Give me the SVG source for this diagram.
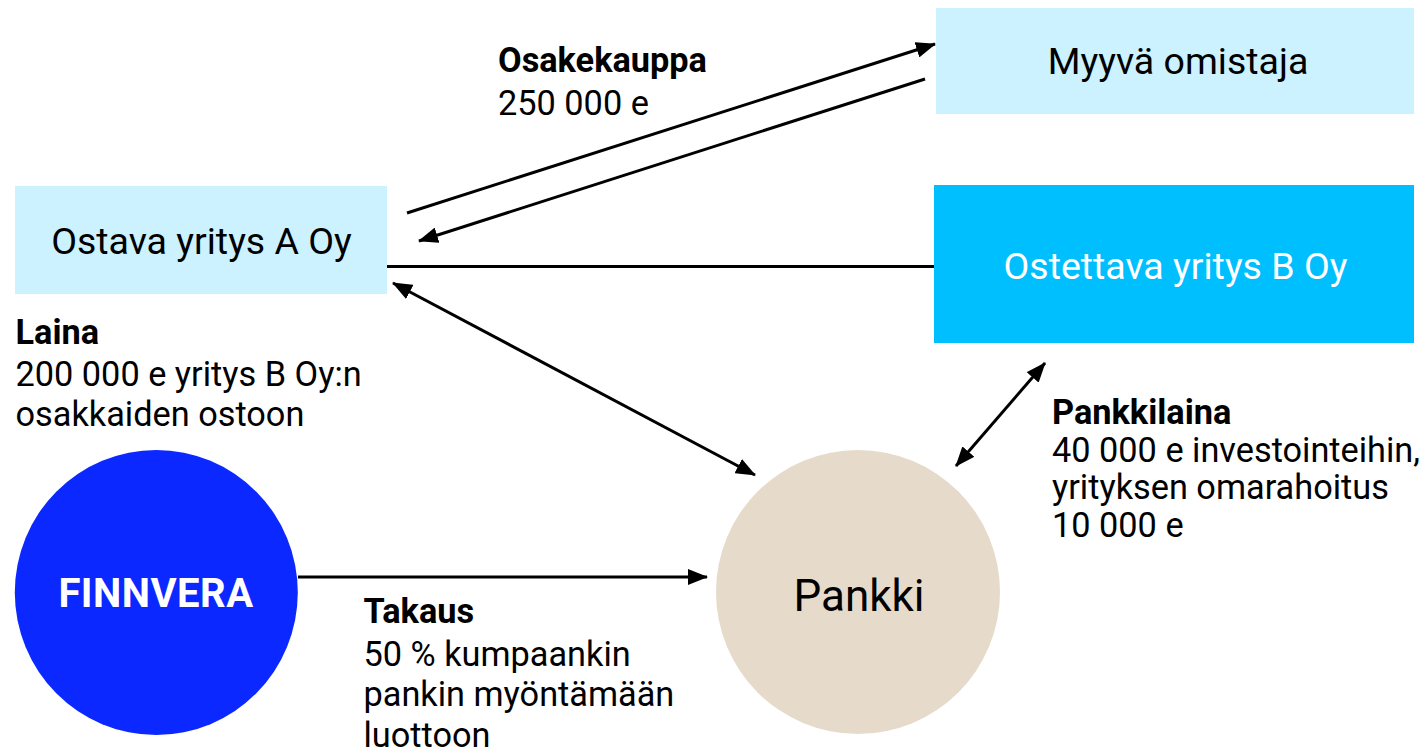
<svg xmlns="http://www.w3.org/2000/svg" width="1423" height="750" viewBox="0 0 1423 750">
<style>
text{font-family:Roboto,"Liberation Sans",sans-serif;font-size:34.3px;fill:#000}
.b{font-weight:700}
.n{font-size:37.500px}
line{stroke:#000;stroke-width:3}
</style>
<defs>
<marker id="e" markerUnits="userSpaceOnUse" markerWidth="20" markerHeight="16" refX="19" refY="8" orient="auto"><path d="M0 0L20 8L0 16Z"/></marker>
<marker id="s" markerUnits="userSpaceOnUse" markerWidth="20" markerHeight="16" refX="1" refY="8" orient="auto"><path d="M20 0L0 8L20 16Z"/></marker>
</defs>
<rect width="1423" height="750" fill="#fff"/>
<g id="connectors">
<line x1="407" y1="213" x2="935" y2="44" marker-end="url(#e)"/>
<line x1="925" y1="79" x2="419" y2="241" marker-end="url(#e)"/>
<line x1="387" y1="266.500" x2="934" y2="266.500"/>
<line x1="393" y1="283" x2="755" y2="475" marker-start="url(#s)" marker-end="url(#e)"/>
<line x1="1045" y1="363" x2="956" y2="466" marker-start="url(#s)" marker-end="url(#e)"/>
<line x1="298" y1="577" x2="707" y2="577" marker-end="url(#e)"/>
</g>
<g id="myyva"><rect x="936" y="8" width="478" height="106" fill="#ccf2ff"/><text x="1178" y="73.500" text-anchor="middle" class="n">Myyvä omistaja</text></g>
<g id="ostava"><rect x="15" y="186" width="372" height="108" fill="#ccf2ff"/><text x="201.500" y="253.500" text-anchor="middle" class="n">Ostava yritys A Oy</text></g>
<g id="ostettava"><rect x="934" y="185" width="480" height="158" fill="#00bfff"/><text x="1175.500" y="278.500" text-anchor="middle" class="n" style="fill:#fff">Ostettava yritys B Oy</text></g>
<g id="finnvera"><ellipse cx="156.300" cy="592.500" rx="141.500" ry="142.500" fill="#0a28ff"/><text x="156" y="606.500" text-anchor="middle" style="font-size:40px;font-weight:700;letter-spacing:.5px;fill:#fff">FINNVERA</text></g>
<g id="pankki"><circle cx="858" cy="592" r="142" fill="#e6dacb"/><text x="859" y="610.500" text-anchor="middle" style="font-size:44px">Pankki</text></g>
<g id="labels">
<text x="498" y="71.500" class="b">Osakekauppa</text><text x="498" y="114.500">250 000 e</text>
<text x="15.500" y="343.500" class="b">Laina</text><text x="15.500" y="386">200 000 e yritys B Oy:n</text><text x="15.500" y="425.500">osakkaiden ostoon</text>
<text x="1052" y="424" class="b">Pankkilaina</text><text x="1052" y="462">40 000 e investointeihin,</text><text x="1052" y="499">yrityksen omarahoitus</text><text x="1052" y="537">10 000 e</text>
<text x="363.500" y="623" class="b">Takaus</text><text x="363.500" y="665.500">50 % kumpaankin</text><text x="363.500" y="705.500">pankin myöntämään</text><text x="363.500" y="747">luottoon</text>
</g>
</svg>
